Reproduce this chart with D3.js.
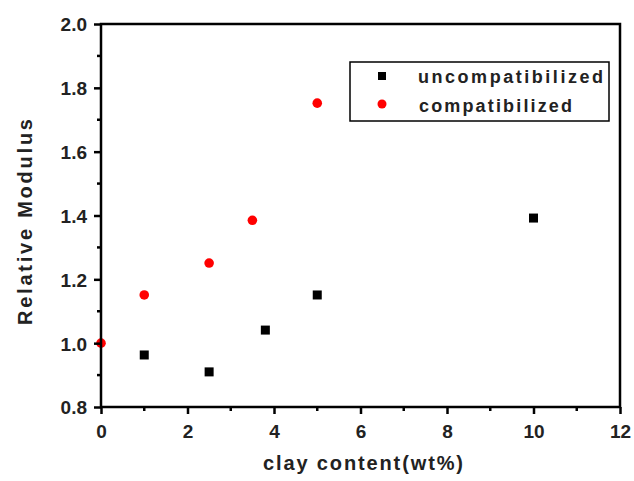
<!DOCTYPE html>
<html><head><meta charset="utf-8">
<script src="https://cdn.jsdelivr.net/npm/d3@7"></script>
<style>body{margin:0;background:#fff}</style>
</head><body>
<svg id="c" width="634" height="481"></svg>
<script>
const uncompX = [1, 2.5, 3.8, 5, 10];
const uncompY = [0.963, 0.91, 1.041, 1.151, 1.392];
const compX = [0, 1, 2.5, 3.5, 5];
const compY = [1.0, 1.151, 1.251, 1.385, 1.752];
const xTicks = [0, 2, 4, 6, 8, 10, 12];
const yTicks = [0.8, 1.0, 1.2, 1.4, 1.6, 1.8, 2.0];
const seriesNames = ["uncompatibilized", "compatibilized"];

const svg = d3.select("#c");
const L = 101, R = 620, T = 24, B = 407;
const x = d3.scaleLinear().domain([0, 12]).range([L, R]);
const y = d3.scaleLinear().domain([0.8, 2.0]).range([B, T]);
const font = "'Liberation Sans', Arial, sans-serif";

// markers
const g = svg.append("g");
g.selectAll("rect.u").data(uncompX.map((d,i)=>[d,uncompY[i]])).enter().append("rect")
  .attr("x", d=>x(d[0])-4.5).attr("y", d=>y(d[1])-4.5).attr("width",9).attr("height",9).attr("fill","#000");
g.selectAll("circle.c").data(compX.map((d,i)=>[d,compY[i]])).enter().append("circle")
  .attr("cx", d=>x(d[0])).attr("cy", d=>y(d[1])).attr("r",4.8).attr("fill","#ff0000");

// frame
svg.append("rect").attr("x",L).attr("y",T).attr("width",R-L).attr("height",B-T)
  .attr("fill","none").attr("stroke","#000").attr("stroke-width",2.5);

// axes
const xAxis = d3.axisBottom(x).tickValues(xTicks).tickFormat(d3.format("d")).tickSize(7).tickSizeOuter(0);
const gx = svg.append("g").attr("transform",`translate(0,${B})`).call(xAxis);
const yAxis = d3.axisLeft(y).tickValues(yTicks).tickFormat(d3.format(".1f")).tickSize(7).tickSizeOuter(0);
const gy = svg.append("g").attr("transform",`translate(${L},0)`).call(yAxis);
[gx, gy].forEach(a=>{
  a.select(".domain").remove();
  a.selectAll(".tick line").attr("stroke","#000").attr("stroke-width",2.5);
  a.selectAll(".tick text").attr("font-family",font).attr("font-weight","bold").attr("font-size",19).attr("fill","#222");
});
gx.selectAll(".tick text").attr("y",31).attr("dy",0);
gy.selectAll(".tick text").attr("x",-14).attr("dy","0.36em");
// minor ticks
const xMinor = d3.range(1, 12, 2);
svg.append("g").selectAll("line").data(xMinor).enter().append("line")
  .attr("x1",d=>x(d)).attr("x2",d=>x(d)).attr("y1",B).attr("y2",B+4).attr("stroke","#000").attr("stroke-width",2.5);
const yMinor = [0.9,1.1,1.3,1.5,1.7,1.9];
svg.append("g").selectAll("line").data(yMinor).enter().append("line")
  .attr("y1",d=>y(d)).attr("y2",d=>y(d)).attr("x1",L).attr("x2",L-4).attr("stroke","#000").attr("stroke-width",2.5);

// axis titles
svg.append("text").attr("x",263).attr("y",470)
  .attr("font-family",font).attr("font-weight","bold").attr("font-size",20).attr("fill","#222")
  .attr("textLength",200).attr("lengthAdjust","spacing")
  .text("clay content(wt%)");
svg.append("text").attr("transform",`translate(32,325) rotate(-90)`)
  .attr("font-family",font).attr("font-weight","bold").attr("font-size",20).attr("fill","#222")
  .attr("textLength",206).attr("lengthAdjust","spacing")
  .text("Relative Modulus");

// legend
svg.append("rect").attr("x",350).attr("y",62).attr("width",259).attr("height",59)
  .attr("fill","#fff").attr("stroke","#000").attr("stroke-width",1.5);
svg.append("rect").attr("x",378).attr("y",72).attr("width",8).attr("height",8).attr("fill","#000");
svg.append("circle").attr("cx",382).attr("cy",104).attr("r",4.5).attr("fill","#ff0000");
svg.append("text").attr("x",418).attr("y",83).attr("font-family",font).attr("font-weight","bold").attr("font-size",18)
  .attr("textLength",185).attr("lengthAdjust","spacing").attr("fill","#222").text(seriesNames[0]);
svg.append("text").attr("x",419).attr("y",112).attr("font-family",font).attr("font-weight","bold").attr("font-size",18)
  .attr("textLength",153).attr("lengthAdjust","spacing").attr("fill","#222").text(seriesNames[1]);
</script>
</body></html>
